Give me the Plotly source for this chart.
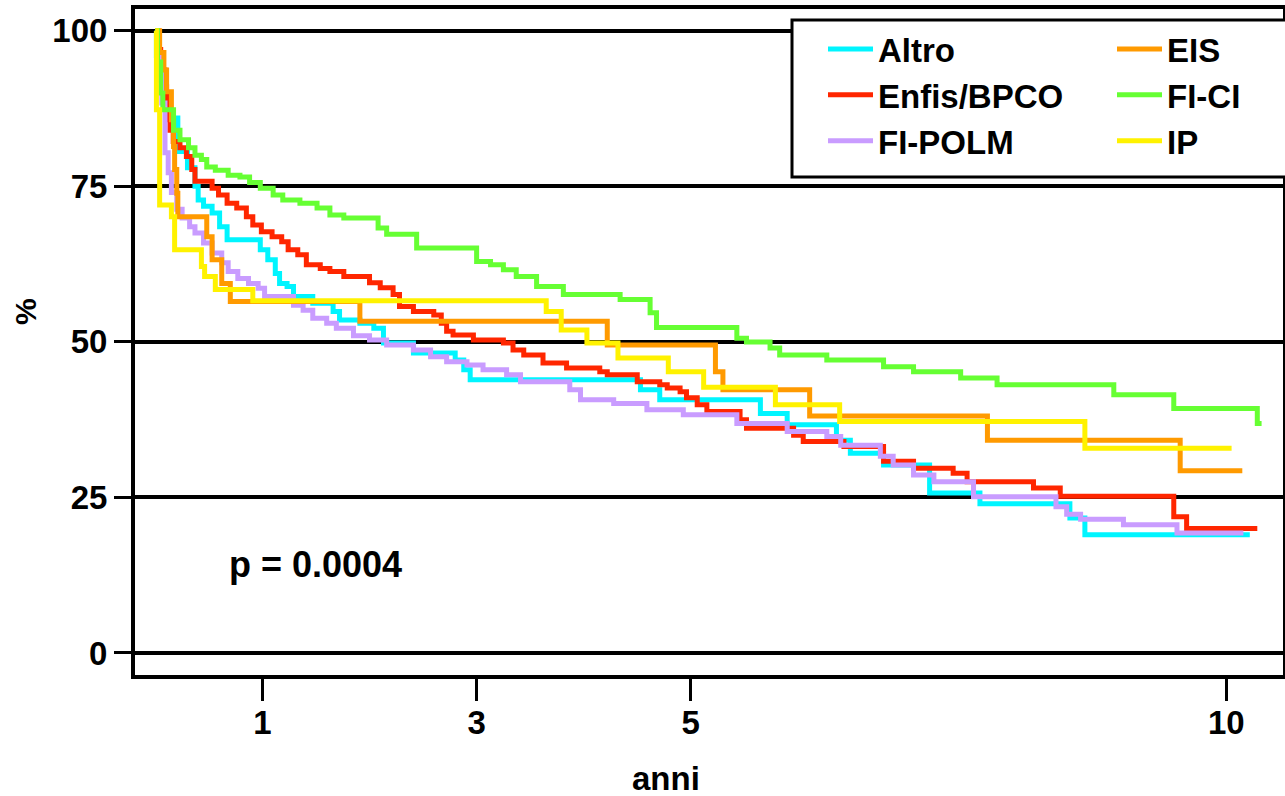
import plotly.graph_objects as go

# ---- data (years, survival %) ----
altro_t = [0, 0.01, 0.03, 0.10, 0.21, 0.30, 0.37, 0.40, 0.45, 0.53, 0.60, 0.67, 0.98, 1.05, 1.12, 1.16, 1.23, 1.29, 1.47, 1.66,
           1.72, 1.91, 2.04, 2.13, 2.41, 2.80, 2.88, 2.94, 4.53, 4.71, 5.65, 5.90, 6.36, 6.49, 6.80, 7.23, 7.70, 8.54, 8.68, 10.22]
altro_s = [100, 96, 92, 86, 80.6, 78, 75, 72.8, 71.8, 70.7, 68.5, 66.4, 64.8, 63.2, 61, 59.4, 58.9, 57.3, 56.2, 54.9,
           53.5, 53, 52.2, 49.8, 48.2, 47.1, 45.5, 43.9, 42.3, 40.7, 38.5, 36.7, 34.2, 32.1, 30.2, 25.7, 24, 21.7, 19.0, 19.0]

enfis_t = [0, 0.03, 0.05, 0.074, 0.09, 0.105, 0.136, 0.167, 0.23, 0.29, 0.34, 0.37, 0.53, 0.59, 0.67, 0.76, 0.85, 0.91, 0.99, 1.09,
           1.18, 1.24, 1.33, 1.41, 1.54, 1.63, 1.76, 2.00, 2.10, 2.22, 2.28, 2.41, 2.60, 2.67, 2.72, 2.78, 2.97, 3.25, 3.34, 3.44,
           3.62, 3.84, 4.15, 4.22, 4.50, 4.71, 4.78, 4.90, 4.96, 5.06, 5.15, 5.46, 5.52, 5.96, 6.05, 6.43, 6.80, 7.08, 7.45, 7.58,
           8.20, 8.45, 9.51, 9.63, 10.29]
enfis_s = [100, 97, 95, 93.7, 91, 85.7, 84, 82.2, 81.2, 79.8, 77.7, 75.8, 74.7, 73.6, 72.3, 71.5, 70.1, 68.8, 67.7, 66.9,
           66.1, 64.8, 64, 62.4, 61.8, 61.3, 60.5, 59.5, 58.7, 57.6, 55.7, 54.9, 54.3, 53, 51.7, 51.1, 50.3, 49.8, 48.7, 47.9,
           46.6, 45.8, 45.2, 44.7, 43.6, 43.1, 42.6, 42, 41, 39.9, 38.8, 37.5, 36.1, 35, 34, 33.2, 30.8, 29.7, 28.9, 27.5,
           26.5, 25.2, 21.9, 20.0, 20.0]

polm_t = [0, 0.03, 0.06, 0.09, 0.12, 0.15, 0.20, 0.25, 0.32, 0.37, 0.45, 0.53, 0.62, 0.68, 0.77, 0.87, 0.96, 1.02, 1.29, 1.38,
          1.47, 1.60, 1.69, 1.85, 2.00, 2.16, 2.41, 2.57, 2.72, 2.91, 3.06, 3.28, 3.41, 3.87, 3.97, 4.28, 4.59, 4.93, 5.43, 5.90,
          6.27, 6.40, 6.77, 6.89, 7.08, 7.27, 7.64, 8.41, 8.51, 8.64, 9.04, 9.54, 10.16]
polm_s = [100, 96, 88.4, 80.4, 77.2, 74, 71.3, 69.9, 68.5, 67.5, 65.9, 64.3, 62.7, 61.3, 60.2, 59.4, 58.6, 57.3, 55.9, 55.1,
          53.8, 53, 52.2, 51, 50.3, 49.5, 48.7, 47.6, 46.8, 46.3, 45.5, 44.7, 43.6, 42.3, 40.7, 40.1, 39.1, 38.3, 36.9, 35.6,
          34.8, 33.4, 31.6, 30.2, 28.6, 27.5, 25.1, 23.5, 22.3, 21.5, 20.6, 19.3, 19.3]

eis_t = [0, 0.04, 0.08, 0.105, 0.15, 0.17, 0.18, 0.20, 0.21, 0.48, 0.53, 0.62, 0.70, 1.91, 4.22, 5.23, 5.30, 6.11, 7.77, 9.57, 10.15]
eis_s = [100, 96.5, 93.7, 90.2, 85.7, 81.4, 77.7, 73.9, 70.1, 66.9, 63.2, 59.4, 56.5, 53.3, 49.5, 45.2, 42.3, 38.1, 34.2, 29.3, 29.3]

fici_t = [0, 0.02, 0.05, 0.07, 0.17, 0.23, 0.31, 0.37, 0.43, 0.48, 0.56, 0.68, 0.79, 0.88, 0.98, 1.10, 1.19, 1.35, 1.51, 1.63,
          1.76, 2.08, 2.16, 2.44, 3.00, 3.13, 3.25, 3.37, 3.56, 3.81, 4.34, 4.62, 4.68, 5.43, 5.52, 5.74, 5.83, 6.27, 6.80, 7.08,
          7.52, 7.86, 8.95, 9.51, 10.29, 10.33]
fici_s = [100, 95, 90, 87.3, 84, 82.5, 81.2, 80, 79.3, 78.1, 77.6, 76.8, 76.5, 75.6, 74.7, 73.6, 72.8, 72.3, 71.5, 70.4,
          69.9, 68.3, 67.3, 65.1, 62.9, 62.4, 61.6, 60.5, 58.9, 57.6, 56.8, 54.7, 52.3, 50.6, 50.0, 49.0, 47.9, 47.1, 46.0, 45.2,
          44.2, 43.1, 41.5, 39.3, 36.9, 36.9]

ip_t = [0, 0.01, 0.04, 0.15, 0.18, 0.43, 0.46, 0.56, 0.91, 3.65, 3.79, 4.03, 4.32, 4.79, 5.12, 5.79, 6.39, 8.68, 10.05]
ip_s = [100, 87.3, 72, 70.1, 64.8, 62.1, 60.5, 58.4, 56.6, 54.9, 51.9, 49.8, 47.4, 45.2, 42.7, 39.9, 37.2, 32.9, 32.9]

names = ["Altro", "Enfis/BPCO", "FI-POLM", "EIS", "FI-CI", "IP"]
colors = ["#00F5FF", "#FF2600", "#C99CFF", "#FF9A00", "#66FF33", "#FFF200"]
series = [(altro_t, altro_s), (enfis_t, enfis_s), (polm_t, polm_s),
          (eis_t, eis_s), (fici_t, fici_s), (ip_t, ip_s)]
legend_ids = ["legend", "legend", "legend", "legend2", "legend2", "legend2"]

y_ticks = [0, 25, 50, 75, 100]
x_ticks = [1, 3, 5, 10]

FONT = "Liberation Sans"

fig = go.Figure()
for (t, s), n, c, lg in zip(series, names, colors, legend_ids):
    fig.add_trace(go.Scatter(x=t, y=s, name=n, mode="lines",
                             line=dict(color=c, width=5, shape="hv"),
                             legend=lg))

W, H = 1285, 796
L, R, T, B = 135, 2, 9, 121
pw = W - L - R
ph = H - T - B

def px_x(px):
    return (px - L) / pw

def px_y(py):
    return (H - B - py) / ph

bold = dict(family=FONT, size=33, color="black", weight="bold")

fig.update_layout(
    width=W, height=H,
    margin=dict(l=L, r=R, t=T, b=B, autoexpand=False),
    paper_bgcolor="white", plot_bgcolor="white",
    font=bold,
    xaxis=dict(range=[-0.19, 10.53], tickvals=x_ticks, ticktext=[str(v) for v in x_ticks],
               showgrid=False, zeroline=False, showline=True, linecolor="black", linewidth=4,
               mirror=True, ticks="outside", ticklen=22, tickwidth=3, tickcolor="black",
               ticklabelstandoff=-7, tickfont=bold),
    yaxis=dict(range=[-3.54, 103.5], tickvals=y_ticks, ticktext=[str(v) for v in y_ticks],
               showgrid=True, gridcolor="black", gridwidth=4, zeroline=False,
               showline=True, linecolor="black", linewidth=4, mirror=True,
               ticks="outside", ticklen=17, tickwidth=3, tickcolor="black", tickfont=bold),
    legend=dict(x=px_x(823), y=px_y(21), xanchor="left", yanchor="top",
                bgcolor="rgba(0,0,0,0)", borderwidth=0, itemwidth=45, tracegroupgap=0, font=bold),
    legend2=dict(x=px_x(1112), y=px_y(21), xanchor="left", yanchor="top",
                 bgcolor="rgba(0,0,0,0)", borderwidth=0, itemwidth=45, tracegroupgap=0, font=bold),
    shapes=[dict(type="rect", xref="paper", yref="paper",
                 x0=px_x(792), x1=px_x(1300), y0=px_y(177), y1=px_y(20),
                 line=dict(color="black", width=3), fillcolor="white", layer="above")],
    annotations=[
        dict(text="p = 0.0004", x=0.67, y=14.3, xref="x", yref="y", xanchor="left", yanchor="middle",
             showarrow=False, font=dict(family=FONT, size=36, color="black", weight="bold")),
        dict(text="anni", x=px_x(666), y=px_y(778), xref="paper", yref="paper", xanchor="center",
             yanchor="middle", showarrow=False, font=bold),
        dict(text="%", x=px_x(25), y=px_y(312), xref="paper", yref="paper", xanchor="center",
             yanchor="middle", textangle=-90, showarrow=False,
             font=dict(family=FONT, size=30, color="black", weight="bold")),
    ],
)

fig.write_html("out.html", config={"displayModeBar": False},
               post_script="document.body.style.margin='0';")
